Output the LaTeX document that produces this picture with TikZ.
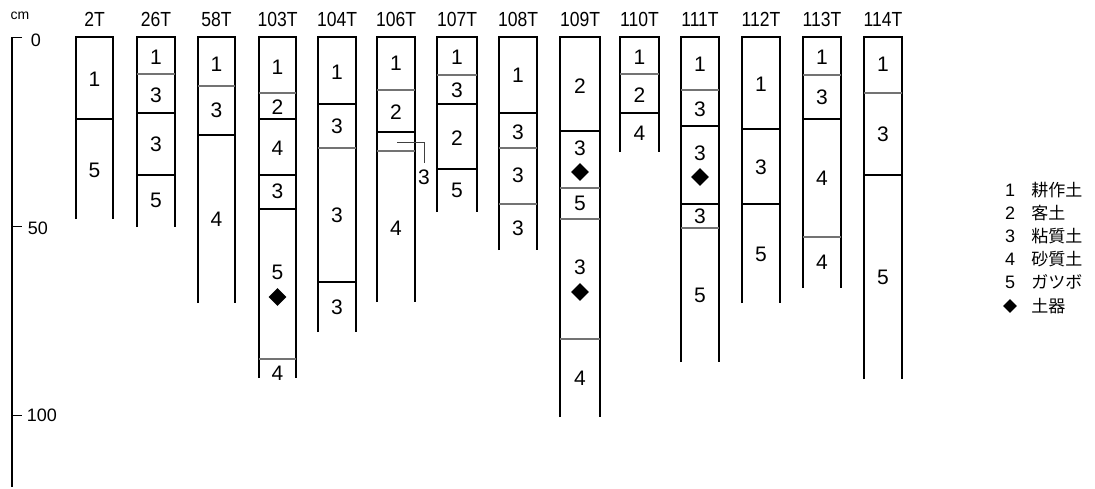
\documentclass[tikz,border=0pt]{standalone}
\usepackage{fontspec}
\setmainfont{Liberation Sans}
\newfontfamily\jpfont{Noto Sans CJK JP}
\newfontfamily\narrowf[FakeStretch=0.86]{Liberation Sans}
\usetikzlibrary{shapes.geometric}
\tikzset{
  side/.style={line width=1pt, black, line join=miter},
  kb/.style={line width=0.55pt, black},
  gb/.style={line width=0.75pt, black!55},
  lab/.style={font=\fontsize{10.5pt}{12pt}\selectfont, inner sep=0pt},
  head/.style={font=\narrowf\fontsize{10.2pt}{12pt}\selectfont, inner sep=0pt},
  scl/.style={font=\fontsize{9pt}{11pt}\selectfont, inner sep=0pt, anchor=west},
  dia/.style={diamond, fill=black, draw=none, inner sep=0pt, minimum width=9pt, minimum height=9pt},
  ldia/.style={diamond, fill=black, draw=none, inner sep=0pt, minimum width=7pt, minimum height=7pt},
  legn/.style={font=\fontsize{9pt}{11pt}\selectfont, inner sep=0pt},
  legt/.style={font=\jpfont\fontsize{8.5pt}{10pt}\selectfont, inner sep=0pt, anchor=west},
  lead/.style={line width=0.5pt, black!75},
}
\begin{document}
\begin{tikzpicture}[x=0.5pt,y=-0.5pt]
\useasboundingbox (0,0) rectangle (1095,488);
% scale
\node[font=\fontsize{7pt}{8pt}\selectfont, inner sep=0pt] (cm) at (20,16) {cm};
\draw[line width=0.55pt] (22,37.5) -- (12,37.5) -- (12,487);
\draw[line width=0.55pt] (12,226.5) -- (22,226.5);
\draw[line width=0.55pt] (12,415.5) -- (22,415.5);
\node[scl] (s0) at (30.5,40) {0};
\node[scl] (s50) at (27.5,228) {50};
\node[scl] (s100) at (26.5,415) {100};
% pits
\foreach \l/\r/\b/\h in {76/113/219/2T, 137/175/227/26T, 198/235/303/58T, 259/296/378/103T,
  318/356/332/104T, 377/415/302/106T, 437/477/212/107T, 499/537/250/108T, 560/600/417/109T,
  620/659/152/110T, 681/719/362/111T, 742/780/303/112T, 803/841/288/113T, 864/902/379/114T}{
  \draw[side] (\l,\b) -- (\l,37) -- (\r,37) -- (\r,\b);
  \node[head] (h\h) at ({(\l+\r)/2},19.5) {\h};
}
% boundaries
\foreach \l/\r/\y/\s in {76/113/119/kb,
  137/175/74/gb, 137/175/113/kb, 137/175/175/kb,
  198/235/86/gb, 198/235/135/kb,
  259/296/93/gb, 259/296/119/kb, 259/296/175/kb, 259/296/209/kb, 259/296/359/gb,
  318/356/104/kb, 318/356/148/gb, 318/356/282/kb,
  377/415/90/gb, 377/415/132/kb, 377/415/151/gb,
  437/477/75/gb, 437/477/104/kb, 437/477/169/kb,
  499/537/113/kb, 499/537/148/gb, 499/537/204/gb,
  560/600/131/kb, 560/600/188/gb, 560/600/219/gb, 560/600/339/gb,
  620/659/74/gb, 620/659/113/kb,
  681/719/90/gb, 681/719/126/kb, 681/719/204/kb, 681/719/228/gb,
  742/780/129/kb, 742/780/204/kb,
  803/841/75/gb, 803/841/119/kb, 803/841/237/gb,
  864/902/93/gb, 864/902/175/kb}{
  \draw[\s] (\l,\y) -- (\r,\y);
}
% layer labels
\foreach \x/\y/\t [count=\i] in {94.5/79/1, 94.5/170/5,
  156/57/1, 156/95/3, 156/144/3, 156/200/5,
  216.5/64/1, 216.5/110/3, 216.5/219/4,
  277.5/67/1, 277.5/107/2, 277.5/148/4, 277.5/191/3, 277.5/272/5, 277.5/373/4,
  337/72/1, 337/126/3, 337/215/3, 337/307/3,
  396/63/1, 396/112/2, 396/228/4,
  457/57/1, 457/90/3, 457/138/2, 457/190/5,
  518/75/1, 518/132/3, 518/175/3, 518/228/3,
  580/86/2, 580/148/3, 580/203/5, 580/267/3, 580/378/4,
  639.5/57/1, 639.5/95/2, 639.5/133/4,
  700/64/1, 700/109/3, 700/153/3, 700/216/3, 700/295/5,
  761/84/1, 761/167/3, 761/254/5,
  822/57/1, 822/97/3, 822/178/4, 822/262/4,
  883/64/1, 883/134/3, 883/277/5}{
  \node[lab] (lab\i) at (\x,\y) {\t};
}
% pottery finds
\foreach \x/\y [count=\i] in {277.5/297, 580/172, 580/292, 700/177}{
  \node[dia] (d\i) at (\x,\y) {};
}
% 106T thin layer 3 with leader
\coordinate (ld) at (397,142);
\node[lab] (l106) at (424,177) {3};
\draw[lead] (ld) -| ([yshift=3.2pt]l106.north);
% legend
\foreach \y/\n/\t [count=\i] in {190/1/耕作土, 213/2/客土, 236/3/粘質土, 259/4/砂質土, 282/5/ガツボ}{
  \node[legn] (ln\i) at (1010,\y) {\n};
  \node[legt] (lt\i) at (1031,\y) {\t};
}
\node[ldia] (ln6) at (1010,306) {};
\node[legt] (lt6) at (1031,306) {土器};
\end{tikzpicture}
\end{document}
